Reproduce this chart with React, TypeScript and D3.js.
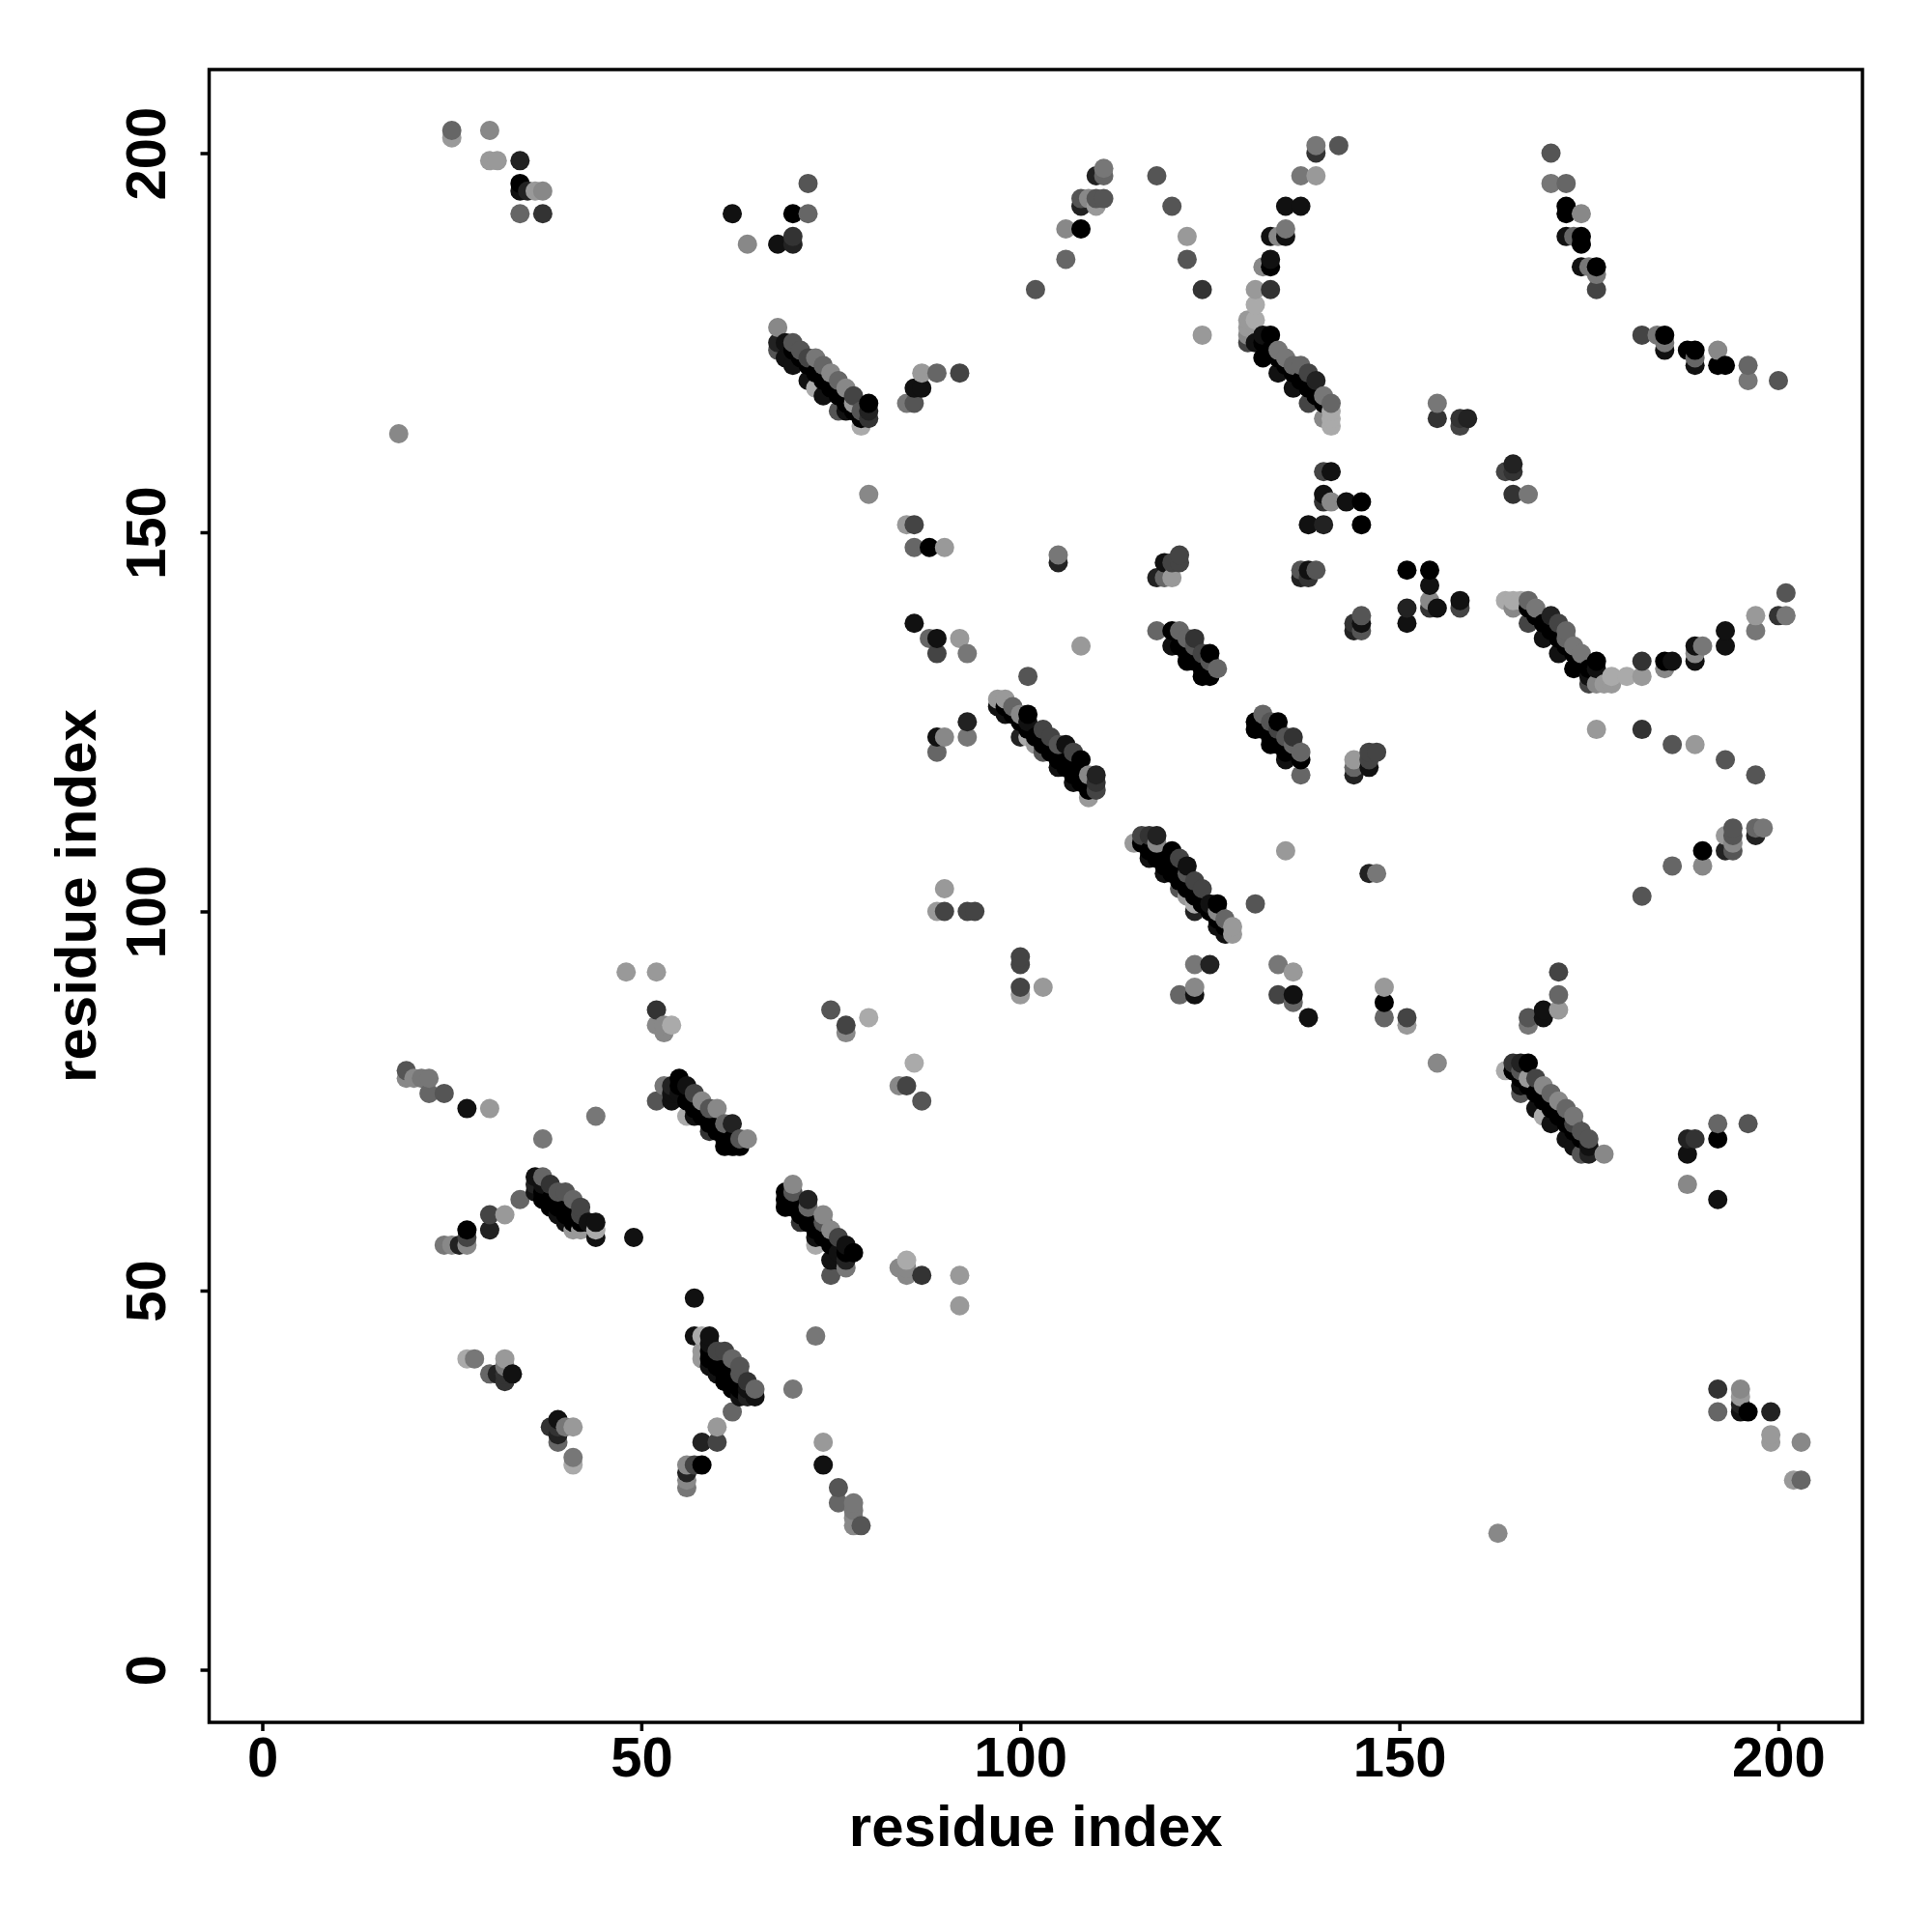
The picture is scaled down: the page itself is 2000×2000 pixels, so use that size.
import React, { useEffect, useRef } from 'react';
import * as d3 from 'd3';

// contacts are [residue i, residue j, shade 0 (black) .. 10 (light)], i < j; the map is symmetric
const farCorner = [
  [18, 163, 8], [25, 202, 9], [25, 203, 6], [30, 203, 8], [30, 199, 9], [31, 199, 9], [34, 199, 2],
  [34, 196, 0], [34, 195, 1], [35, 195, 2], [36, 195, 9], [37, 195, 8], [34, 192, 6], [37, 192, 3],
];
const sheetA = [
  [62, 192, 1], [64, 188, 8], [68, 188, 1], [70, 188, 2], [70, 189, 3], [70, 192, 0], [72, 192, 6], [72, 196, 5],
];
const scatter80s = [
  [80, 155, 8], [85, 151, 9], [86, 151, 4], [86, 148, 6], [88, 148, 0], [90, 148, 9], [86, 138, 1], [88, 136, 6],
  [89, 136, 1], [92, 136, 9], [89, 134, 4], [93, 134, 7], [89, 123, 1], [90, 123, 8], [89, 121, 6], [93, 125, 2],
  [93, 123, 7], [90, 103, 9], [89, 100, 9], [90, 100, 4], [93, 100, 4], [94, 100, 4],
  [85, 167, 7], [86, 167, 5], [86, 169, 1], [87, 169, 1], [87, 171, 9], [89, 171, 6], [92, 171, 4],
];
const arc100s = [
  [102, 182, 5], [106, 186, 6], [106, 190, 8], [108, 190, 0], [108, 193, 2], [108, 194, 5], [109, 194, 8],
  [110, 193, 9], [110, 194, 5], [111, 194, 5], [110, 197, 2], [111, 197, 6], [111, 198, 7],
  [118, 197, 5], [120, 193, 5], [122, 189, 9], [122, 186, 5], [124, 182, 3], [124, 176, 9],
];
const arc130s = [
  [131, 182, 9], [131, 180, 10], [130, 178, 9], [131, 178, 10], [130, 177, 9], [130, 176, 8], [130, 175, 4],
  [133, 182, 3], [132, 185, 8], [133, 185, 0], [133, 186, 1], [133, 189, 1], [134, 189, 8], [135, 189, 1],
  [135, 190, 7], [135, 193, 1], [137, 193, 1], [137, 197, 7], [139, 197, 9], [139, 200, 3], [139, 201, 7], [142, 201, 5],
];
const arc170s = [
  [170, 200, 5], [170, 196, 7], [172, 196, 6], [172, 193, 0], [172, 192, 0], [174, 192, 8], [172, 189, 1],
  [173, 189, 6], [174, 189, 0], [174, 188, 0], [174, 185, 1], [175, 185, 7], [176, 185, 0], [176, 184, 7], [176, 182, 4],
];
const middlePatches = [
  [155, 167, 7], [155, 165, 3], [158, 165, 3], [158, 164, 4], [159, 165, 2],
  [140, 158, 4], [141, 158, 1], [140, 155, 1], [140, 154, 3], [141, 154, 8], [143, 154, 1], [145, 154, 0],
  [138, 151, 1], [140, 151, 2], [145, 151, 0], [105, 147, 7], [105, 146, 2], [121, 147, 4], [121, 146, 4],
  [119, 146, 1], [120, 146, 4], [118, 144, 2], [119, 144, 6], [120, 144, 9], [137, 145, 5], [138, 145, 1],
  [139, 145, 5], [137, 144, 2], [138, 144, 3], [108, 135, 9], [101, 131, 5],
];
const lowerPatches = [
  [48, 92, 9], [52, 92, 9], [52, 87, 3], [52, 85, 8], [53, 85, 8], [54, 85, 10], [53, 84, 8],
  [75, 87, 5], [77, 85, 4], [77, 84, 8], [80, 86, 10], [19, 79, 5], [19, 78, 8], [20, 78, 8], [21, 78, 7],
  [22, 78, 7], [22, 76, 6], [24, 76, 5], [27, 74, 1], [30, 74, 9], [44, 73, 7], [37, 70, 7], [34, 62, 6],
  [32, 60, 9], [30, 60, 4], [30, 58, 2], [27, 58, 0], [27, 57, 4], [27, 56, 8], [26, 56, 2], [25, 56, 8],
  [24, 56, 7], [49, 57, 1], [27, 41, 10], [28, 41, 7], [32, 41, 9], [32, 40, 7], [30, 39, 6], [31, 39, 2],
  [32, 39, 3], [33, 39, 1], [32, 38, 3],
];
const stripe68 = [
  [68, 177, 8], [68, 175, 2], [68, 174, 5], [69, 175, 1], [69, 173, 1], [70, 175, 5], [70, 174, 0], [70, 172, 1],
  [71, 174, 5], [71, 173, 0], [72, 173, 4], [72, 172, 0], [72, 170, 1], [73, 173, 7], [73, 171, 0], [73, 169, 10],
  [74, 172, 6], [74, 170, 0], [74, 168, 1], [75, 171, 8], [75, 169, 0], [76, 170, 6], [76, 168, 0], [76, 166, 5],
  [77, 169, 8], [77, 167, 0], [77, 166, 1], [78, 168, 4], [78, 167, 9], [78, 166, 0], [79, 166, 5], [79, 165, 0],
  [79, 164, 10], [80, 167, 0], [80, 166, 2], [80, 165, 3],
];
const stripe130 = [
  [131, 175, 1], [132, 176, 1], [132, 175, 0], [132, 173, 0], [133, 176, 0], [133, 174, 0], [134, 174, 7],
  [134, 173, 0], [134, 171, 1], [135, 173, 7], [135, 172, 0], [136, 172, 6], [136, 171, 0], [136, 169, 1],
  [137, 172, 6], [137, 170, 0], [138, 171, 4], [138, 169, 0], [138, 167, 4], [139, 170, 2], [139, 168, 0],
  [140, 168, 7], [140, 167, 0], [140, 165, 8], [141, 167, 6], [141, 166, 10], [141, 165, 10], [141, 164, 10],
];
const stripe118 = [
  [118, 137, 6], [120, 137, 0], [120, 135, 1], [121, 137, 6], [121, 135, 0], [122, 136, 6], [122, 134, 0],
  [122, 133, 0], [123, 136, 3], [123, 135, 5], [123, 133, 0], [124, 134, 4], [124, 132, 0], [124, 131, 0],
  [125, 134, 0], [125, 133, 5], [125, 131, 0], [126, 132, 6],
];
const stripe97 = [
  [97, 128, 9], [97, 127, 1], [98, 128, 9], [98, 127, 0], [98, 126, 1], [99, 127, 6], [99, 126, 0], [100, 126, 8],
  [100, 125, 0], [100, 123, 2], [101, 126, 0], [101, 125, 1], [101, 124, 0], [101, 123, 10], [102, 123, 0],
  [102, 122, 9], [103, 124, 4], [103, 122, 0], [103, 121, 5], [104, 123, 4], [104, 121, 0], [105, 122, 5],
  [105, 120, 0], [105, 119, 1], [106, 122, 1], [106, 119, 0], [107, 121, 4], [107, 118, 0], [107, 117, 1],
  [108, 120, 0], [108, 117, 0], [109, 118, 8], [109, 116, 0], [109, 115, 9], [110, 118, 2], [110, 117, 3], [110, 116, 4],
];
const stripe52 = [
  [52, 75, 5], [53, 77, 7], [54, 77, 2], [54, 76, 1], [54, 75, 1], [55, 78, 0], [55, 77, 0], [55, 76, 1],
  [56, 77, 1], [56, 75, 0], [56, 73, 10], [57, 76, 4], [57, 74, 0], [57, 73, 1], [58, 75, 8], [58, 73, 0],
  [59, 74, 5], [59, 72, 0], [59, 71, 3], [60, 74, 8], [60, 71, 0], [61, 72, 6], [61, 70, 0], [61, 69, 0],
  [62, 72, 2], [62, 70, 0], [62, 69, 0], [63, 70, 5], [63, 69, 0], [64, 70, 8],
];
const stripe36 = [
  [36, 65, 1], [36, 64, 2], [36, 63, 1], [37, 65, 6], [37, 64, 1], [37, 63, 0], [37, 62, 0], [38, 64, 3],
  [38, 62, 0], [38, 61, 0], [39, 63, 5], [39, 61, 0], [39, 60, 1], [40, 63, 5], [40, 60, 0], [40, 59, 1],
  [41, 62, 6], [41, 59, 0], [41, 58, 9], [42, 61, 4], [42, 60, 4], [42, 59, 0], [42, 58, 9], [43, 59, 1],
  [44, 59, 1], [44, 58, 10], [44, 57, 1],
];

const axisTicks = [0, 50, 100, 150, 200];
const axisLabel = 'residue index';

const allContacts = [
  ...farCorner, ...sheetA, ...scatter80s, ...arc100s, ...arc130s, ...arc170s, ...middlePatches,
  ...lowerPatches, ...stripe68, ...stripe130, ...stripe118, ...stripe97, ...stripe52, ...stripe36,
];

export default function App() {
  const svgRef = useRef<SVGSVGElement>(null);

  useEffect(() => {
    if (!svgRef.current) return;

    const svg = d3.select(svgRef.current);
    svg.selectAll('*').remove();

    const frame = { left: 216.5, right: 1928, top: 72, bottom: 1783 };
    const font = '"Liberation Sans", Arial, sans-serif';

    const x = d3.scaleLinear().domain([0, 200]).range([271.5, 1841]);
    const y = d3.scaleLinear().domain([0, 200]).range([1728.5, 158.5]);
    const shade = d3.scaleLinear<string>().domain([0, 10]).range(['#000000', '#aaaaaa']);

    // both halves of the map, plotted in residue order so later residues sit on top
    const points = allContacts
      .flatMap(([i, j, s]) => [{ i, j, s }, { i: j, j: i, s }])
      .sort((a, b) => a.i - b.i || a.j - b.j);

    svg.append('g')
      .selectAll('circle')
      .data(points)
      .enter().append('circle')
      .attr('cx', d => x(d.i))
      .attr('cy', d => y(d.j))
      .attr('r', 10)
      .attr('fill', d => shade(d.s));

    svg.append('rect')
      .attr('x', frame.left)
      .attr('y', frame.top)
      .attr('width', frame.right - frame.left)
      .attr('height', frame.bottom - frame.top)
      .attr('fill', 'none')
      .attr('stroke', '#000')
      .attr('stroke-width', 3.5);

    const xAxis = d3.axisBottom(x).tickValues(axisTicks).tickSize(9).tickFormat(d3.format('d'));
    const yAxis = d3.axisLeft(y).tickValues(axisTicks).tickSize(9).tickFormat(d3.format('d'));

    const gx = svg.append('g')
      .attr('transform', `translate(0,${frame.bottom})`)
      .call(xAxis);
    gx.select('.domain').remove();
    gx.selectAll('line').attr('stroke', '#000').attr('stroke-width', 3.5);
    gx.selectAll('text')
      .attr('y', 56)
      .attr('dy', 0)
      .attr('fill', '#000')
      .style('font-family', font)
      .style('font-weight', 'bold')
      .style('font-size', '58px');

    const gy = svg.append('g')
      .attr('transform', `translate(${frame.left},0)`)
      .call(yAxis);
    gy.select('.domain').remove();
    gy.selectAll('line').attr('stroke', '#000').attr('stroke-width', 3.5);
    gy.selectAll('text')
      .attr('transform', 'rotate(-90)')
      .attr('x', 0)
      .attr('y', -46)
      .attr('dy', 0)
      .attr('fill', '#000')
      .style('text-anchor', 'middle')
      .style('font-family', font)
      .style('font-weight', 'bold')
      .style('font-size', '58px');

    svg.append('text')
      .attr('x', (frame.left + frame.right) / 2)
      .attr('y', 1911)
      .attr('text-anchor', 'middle')
      .style('font-family', font)
      .style('font-weight', 'bold')
      .style('font-size', '60px')
      .text(axisLabel);

    svg.append('text')
      .attr('transform', `translate(99,${(frame.top + frame.bottom) / 2}) rotate(-90)`)
      .attr('text-anchor', 'middle')
      .style('font-family', font)
      .style('font-weight', 'bold')
      .style('font-size', '60px')
      .text(axisLabel);
  }, []);

  return (
    <svg
      ref={svgRef}
      width={2000}
      height={2000}
      style={{ position: 'absolute', left: 0, top: 0, background: '#fff' }}
    />
  );
}
